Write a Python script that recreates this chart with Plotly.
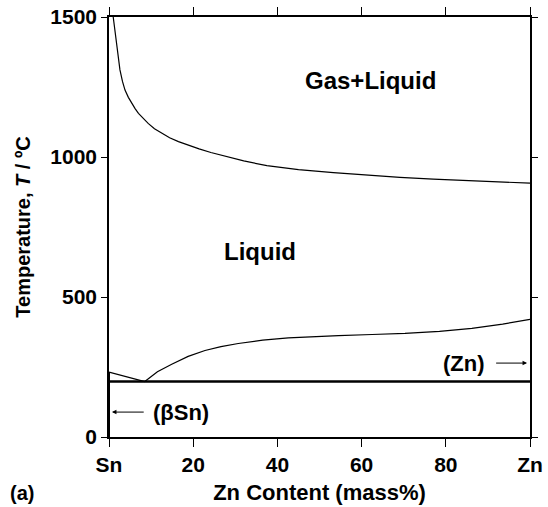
import plotly.graph_objects as go

# Gas + Liquid boundary
gas_x = [1.0, 1.4, 1.8, 2.2, 2.6, 3.2, 3.8, 4.6, 5.4, 6.2, 7.0, 8.1, 9.3, 10.8, 12.5, 14.4, 16.5, 18.9, 21.4, 24.2, 27.2, 32.0, 37.5, 45.0, 53.3, 61.0, 69.1, 77.0, 85.0, 92.5, 100.0]
gas_t = [1500, 1452, 1406, 1356, 1311, 1270, 1239, 1213, 1192, 1173, 1156, 1137, 1120, 1101, 1085, 1069, 1055, 1041, 1029, 1016, 1005, 986, 969, 955, 944, 935, 927, 921, 915, 911, 907]

# Liquidus (Sn side)
liq_sn_x = [0.0, 8.5]
liq_sn_t = [232, 198]

# Liquidus (Zn side)
liq_zn_x = [8.5, 11.5, 14.9, 18.8, 22.8, 26.6, 30.7, 36.5, 42.6, 48.5, 54.5, 62.5, 70.3, 78.5, 86.2, 93.5, 100.0]
liq_zn_t = [198, 233, 260, 288, 309, 323, 334, 346, 354, 359, 362, 366, 370, 377, 388, 403, 420]

# Eutectic line
eut_x = [0.0, 100.0]
eut_t = [198, 198]

# (βSn) solidus along the Sn axis
sn_sol_x = [0.0, 0.0]
sn_sol_t = [0, 232]

x_tickvals = [0, 20, 40, 60, 80, 100]
x_ticktext = ["Sn", "20", "40", "60", "80", "Zn"]
y_tickvals = [0, 500, 1000, 1500]

FONT = "Liberation Sans, Arial, Helvetica, sans-serif"

fig = go.Figure()
thin = dict(color="black", width=1.2)
fig.add_trace(go.Scatter(x=gas_x, y=gas_t, mode="lines", line=thin))
fig.add_trace(go.Scatter(x=liq_sn_x, y=liq_sn_t, mode="lines", line=thin))
fig.add_trace(go.Scatter(x=liq_zn_x, y=liq_zn_t, mode="lines", line=thin))
fig.add_trace(go.Scatter(x=eut_x, y=eut_t, mode="lines", line=dict(color="black", width=2.6)))
fig.add_trace(go.Scatter(x=sn_sol_x, y=sn_sol_t, mode="lines", line=dict(color="black", width=2)))

bold = lambda s: "<b>" + s + "</b>"
ann_font = dict(family=FONT, size=22, color="black")
annotations = [
    dict(x=62, y=1275, text=bold("Gas+Liquid"), showarrow=False, font=dict(family=FONT, size=24, color="black")),
    dict(x=35.9, y=661, text=bold("Liquid"), showarrow=False, font=dict(family=FONT, size=24, color="black")),
    dict(x=84.4, y=264, text=bold("(Zn)"), showarrow=False, font=ann_font),
    dict(x=17.2, y=89, text=bold("(βSn)"), showarrow=False, font=ann_font),
    # arrows
    dict(x=99.3, y=264, ax=91.6, ay=264, axref="x", ayref="y", text="", showarrow=True,
         arrowhead=2, arrowsize=0.9, arrowwidth=1, arrowcolor="black"),
    dict(x=0.7, y=89, ax=8.6, ay=89, axref="x", ayref="y", text="", showarrow=True,
         arrowhead=2, arrowsize=0.9, arrowwidth=1, arrowcolor="black"),
    dict(x=-0.24, y=-0.133, xref="paper", yref="paper", text=bold("(a)"), showarrow=False,
         xanchor="left", yanchor="middle", font=dict(family=FONT, size=20, color="black")),
]

fig.update_layout(
    width=548, height=507,
    margin=dict(l=109, r=18, t=17, b=70),
    plot_bgcolor="white", paper_bgcolor="white",
    showlegend=False,
    annotations=annotations,
    font=dict(family=FONT, color="black"),
)
fig.update_xaxes(
    range=[0, 100], tickvals=x_tickvals, ticktext=[bold(t) for t in x_ticktext],
    ticks="outside", ticklen=8, tickwidth=1.3, tickcolor="black",
    showline=True, linecolor="black", linewidth=1.5, mirror="ticks",
    showgrid=False, zeroline=False, automargin=False,
    tickfont=dict(family=FONT, size=21, color="black"),
    title=dict(text=bold("Zn Content (mass%)"), font=dict(family=FONT, size=22, color="black"), standoff=10),
)
fig.update_yaxes(
    range=[0, 1500], tickvals=y_tickvals, ticktext=[bold(str(v)) for v in y_tickvals],
    ticks="outside", ticklen=6, tickwidth=1.3, tickcolor="black",
    showline=True, linecolor="black", linewidth=1.5, mirror="ticks",
    showgrid=False, zeroline=False, automargin=False,
    tickfont=dict(family=FONT, size=21, color="black"),
    title=dict(text=bold("Temperature, <i>T</i> / ºC"), font=dict(family=FONT, size=20, color="black"), standoff=14),
)

fig.write_html("out.html")
